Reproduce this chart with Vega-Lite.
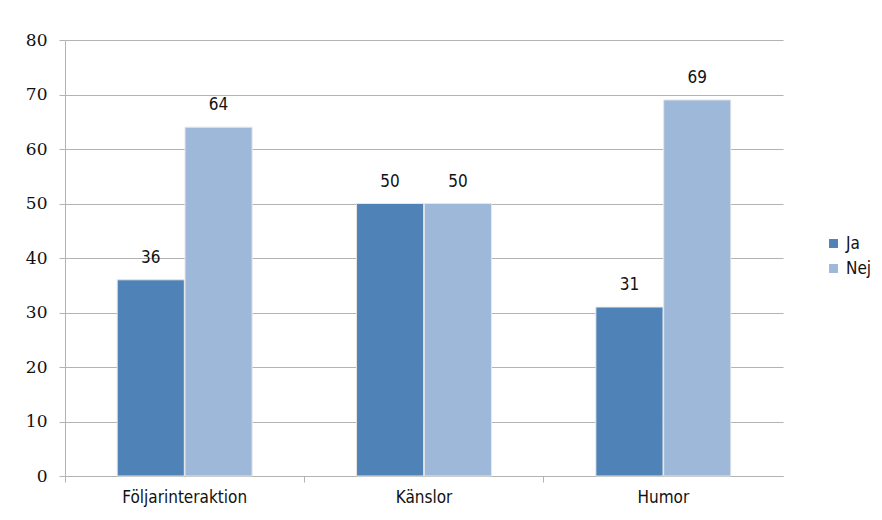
{
  "$schema": "https://vega.github.io/schema/vega-lite/v6.json",
  "autosize": "none",
  "width": 718,
  "height": 436,
  "padding": {"left": 65, "top": 40, "right": 99, "bottom": 44},
  "background": "white",
  "data": {"values": [
    {"kategori": "Följarinteraktion", "svar": "Ja", "v": 36},
    {"kategori": "Följarinteraktion", "svar": "Nej", "v": 64},
    {"kategori": "Känslor", "svar": "Ja", "v": 50},
    {"kategori": "Känslor", "svar": "Nej", "v": 50},
    {"kategori": "Humor", "svar": "Ja", "v": 31},
    {"kategori": "Humor", "svar": "Nej", "v": 69}
  ]},
  "encoding": {
    "x": {"field": "kategori", "type": "nominal", "sort": ["Följarinteraktion", "Känslor", "Humor"],
      "scale": {"paddingInner": 0, "paddingOuter": 0},
      "axis": {"title": null, "labelAngle": 0, "bandPosition": 0, "domainColor": "#b3b3b3", "tickColor": "#b3b3b3", "tickSize": 6,
        "labelFont": "DejaVu Sans Condensed", "labelFontSize": 17, "labelColor": "#111", "labelPadding": 7, "grid": false}},
    "xOffset": {"field": "svar", "type": "nominal", "scale": {"paddingInner": 0.01, "paddingOuter": 0.77}},
    "y": {"field": "v", "type": "quantitative", "scale": {"domain": [0, 80]},
      "axis": {"title": null, "values": [0,10,20,30,40,50,60,70,80], "gridColor": "#b3b3b3", "domainColor": "#b3b3b3", "tickColor": "#b3b3b3", "tickSize": 6,
        "labelFont": "DejaVu Serif", "labelFontSize": 17, "labelColor": "#111", "labelPadding": 12}}
  },
  "layer": [
    {"mark": {"type": "bar", "stroke": "#e6e6e6", "strokeWidth": 1},
      "encoding": {"color": {"field": "svar", "type": "nominal",
        "scale": {"domain": ["Ja", "Nej"], "range": ["#4f82b7", "#9eb8d9"]},
        "legend": {"title": null, "orient": "none", "legendX": 760, "legendY": 195, "symbolType": "square", "symbolSize": 80, "rowPadding": 7,
          "labelFont": "DejaVu Sans Condensed", "labelFontSize": 17, "labelColor": "#111", "symbolStrokeWidth": 0}}}},
    {"mark": {"type": "text", "dy": -22, "font": "DejaVu Sans Condensed", "fontSize": 17, "color": "#111"},
      "encoding": {"text": {"field": "v", "type": "quantitative"}}}
  ],
  "config": {"view": {"stroke": null}}
}
